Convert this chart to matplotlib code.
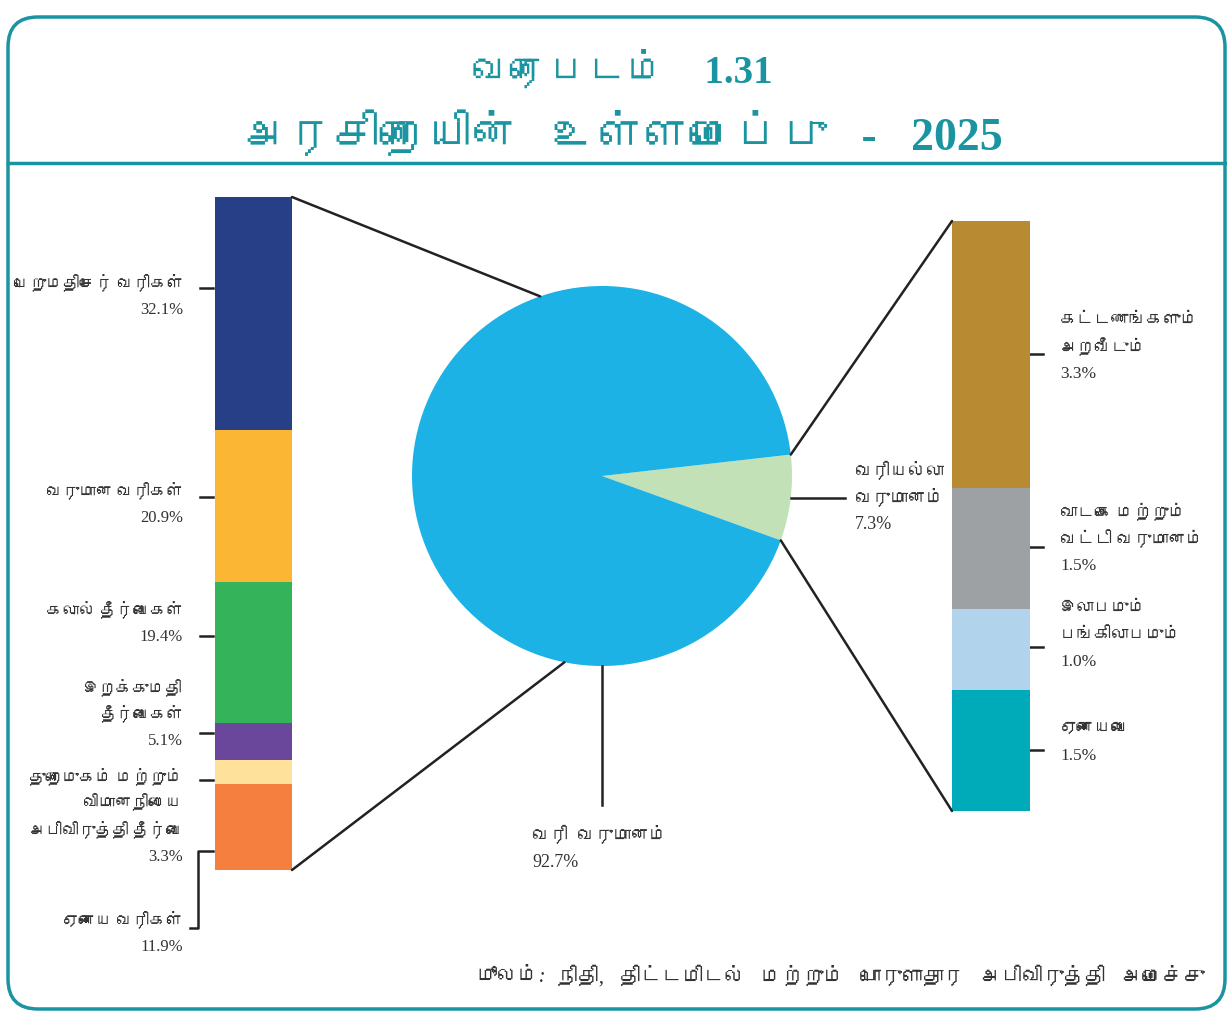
import numpy as np
import matplotlib
matplotlib.use("Agg")
import matplotlib.pyplot as plt
from matplotlib import font_manager
from matplotlib.ft2font import FT2Font
from matplotlib.patches import FancyBboxPatch, ConnectionPatch

# revenue composition, % of total government revenue
tax_names = [
    "பெறுமதிசேர் வரிகள்",
    "வருமான வரிகள்",
    "கலால் தீர்வைகள்",
    "இறக்குமதி\nதீர்வைகள்",
    "துறைமுகம் மற்றும்\nவிமானநிலைய\nஅபிவிருத்தி தீர்வை",
    "ஏனைய வரிகள்",
]
tax_values = [32.1, 20.9, 19.4, 5.1, 3.3, 11.9]
tax_colors = ["#263f87", "#fbb733", "#35b35b", "#6b479b", "#fee29b", "#f47f3f"]

nontax_names = [
    "கட்டணங்களும்\nஅறவீடும்",
    "வாடகை மற்றும்\nவட்டி வருமானம்",
    "இலாபமும்\nபங்கிலாபமும்",
    "ஏனையவை",
]
nontax_values = [3.3, 1.5, 1.0, 1.5]
nontax_colors = ["#b88b32", "#9da1a4", "#b1d4ec", "#00abb9"]

tax_total = 92.7
nontax_total = 7.3

W, H = 1227, 1013
TEAL = "#1a94a1"
INK = "#333333"
LINE = "#222222"
PITCH = 26.5  # px between label lines


def fonts_with(char):
    found = []
    for entry in font_manager.fontManager.ttflist:
        try:
            if ord(char) in FT2Font(entry.fname).get_charmap():
                if entry.name not in found:
                    found.append(entry.name)
        except Exception:
            continue
    return found


FAMILY = ["Liberation Serif"] + fonts_with("க") + ["DejaVu Sans"]
plt.rcParams["font.family"] = FAMILY


def rect(x0, y0, x1, y1):
    return [x0 / W, 1 - y1 / H, (x1 - x0) / W, (y1 - y0) / H]


fig = plt.figure(figsize=(W / 100, H / 100), dpi=100)

# page frame, title, labels go on a pixel-scaled background axes
bg = fig.add_axes([0, 0, 1, 1])
bg.set_xlim(0, W)
bg.set_ylim(H, 0)
bg.axis("off")


def label(x, y0, lines, ha, size=12):
    # one text per line so spacing stays fixed whatever the font metrics
    for i, s in enumerate(lines):
        bg.text(x, y0 + i * PITCH, s, ha=ha, va="center", fontsize=size, color=INK)


frame = FancyBboxPatch((8, 17), 1217, 992, boxstyle="round,pad=0,rounding_size=30",
                       fc="none", ec=TEAL, lw=2.5, clip_on=False)
bg.add_patch(frame)
bg.plot([8, 1225], [163, 163], color=TEAL, lw=2.5, clip_on=False)

bg.text(622, 72, "வரைபடம்    1.31", ha="center", va="center",
        fontsize=28, color=TEAL, fontweight="bold")
bg.text(622, 137, "அரசிறையின்   உள்ளமைப்பு   -   2025", ha="center", va="center",
        fontsize=33, color=TEAL, fontweight="bold")

# left stacked bar: tax revenue
ax_l = fig.add_axes(rect(215, 197, 292, 870))
bottom = 0
for v, c in zip(tax_values, tax_colors):
    ax_l.bar(0, v, bottom=bottom, width=1, color=c, edgecolor="none")
    bottom += v
ax_l.set_xlim(-0.5, 0.5)
ax_l.set_ylim(sum(tax_values), 0)
ax_l.axis("off")

# right stacked bar: non-tax revenue
ax_r = fig.add_axes(rect(952, 221, 1030, 811))
bottom = 0
for v, c in zip(nontax_values, nontax_colors):
    ax_r.bar(0, v, bottom=bottom, width=1, color=c, edgecolor="none")
    bottom += v
ax_r.set_xlim(-0.5, 0.5)
ax_r.set_ylim(sum(nontax_values), 0)
ax_r.axis("off")

# pie of tax vs non-tax
ax_p = fig.add_axes(rect(412, 286, 792, 666))
wedges, _ = ax_p.pie([nontax_total, tax_total], colors=["#c3e1b6", "#1cb2e6"],
                     startangle=-19.8, counterclock=True,
                     wedgeprops=dict(linewidth=0))
ax_p.set_xlim(-1, 1)
ax_p.set_ylim(-1, 1)
ax_p.set_aspect("equal")
ax_p.axis("off")


def on_circle(deg):
    t = np.deg2rad(deg)
    return (np.cos(t), np.sin(t))


def pie_to_px(x, y):
    return bg.transData.inverted().transform(ax_p.transData.transform((x, y)))


green = wedges[0]
links = [
    ((1, 0), ax_l.get_yaxis_transform(), on_circle(109)),
    ((1, sum(tax_values)), ax_l.get_yaxis_transform(), on_circle(258.6)),
    ((0, 0), ax_r.get_yaxis_transform(), on_circle(green.theta2)),
    ((0, sum(nontax_values)), ax_r.get_yaxis_transform(), on_circle(green.theta1)),
]
for xy_a, tr_a, xy_b in links:
    fig.add_artist(ConnectionPatch(xyA=xy_a, coordsA=tr_a, xyB=xy_b, coordsB=ax_p.transData,
                                   color=LINE, lw=1.8))

# pie leaders and labels
ax_p.plot([0, 0], [-1, -1.73], color=LINE, lw=1.8, clip_on=False)
lx, ly = pie_to_px(-0.368, -1.73)
label(lx, ly + 31, ["வரி  வருமானம்", f"{tax_total:.1f}%"], "left", size=13)

mid = np.deg2rad((green.theta1 + green.theta2) / 2)
ax_p.plot([np.cos(mid), 1.28], [np.sin(mid), np.sin(mid)], color=LINE, lw=1.8, clip_on=False)
lx, ly = pie_to_px(1.33, np.sin(mid))
label(lx, ly - PITCH, ["வரியல்லா", "வருமானம்", f"{nontax_total:.1f}%"], "left", size=13)

# left bar labels (first-line centre y) and leader ticks
left_label_y = [283, 491, 610, 688, 777, 920]
left_tick_y = [288, 497, 636, 733, 780]
for name, v, y in zip(tax_names, tax_values, left_label_y):
    label(183, y, name.split("\n") + [f"{v:.1f}%"], "right")
for y in left_tick_y:
    bg.plot([200, 213], [y, y], color=LINE, lw=1.8)
bg.plot([213, 198, 198, 190], [851, 851, 928, 928], color=LINE, lw=1.8)

# right bar labels
right_label_y = [321, 513, 609, 729]
right_tick_y = [354, 547, 647, 750]
for name, v, y in zip(nontax_names, nontax_values, right_label_y):
    label(1060, y, name.split("\n") + [f"{v:.1f}%"], "left", size=12.5)
for y in right_tick_y:
    bg.plot([1030, 1043], [y, y], color=LINE, lw=1.8)

# source line
src = bg.text(1205, 977, "நிதி,   திட்டமிடல்   மற்றும்   பொருளாதார   அபிவிருத்தி   அமைச்சு",
              ha="right", va="center", fontsize=15, color=INK)
bg.annotate("மூலம்:", xy=(0, 0.5), xycoords=src, xytext=(-8, 0), textcoords="offset points",
            ha="right", va="center", fontsize=15, color=INK, style="italic")

fig.savefig("out.png", dpi=100)
